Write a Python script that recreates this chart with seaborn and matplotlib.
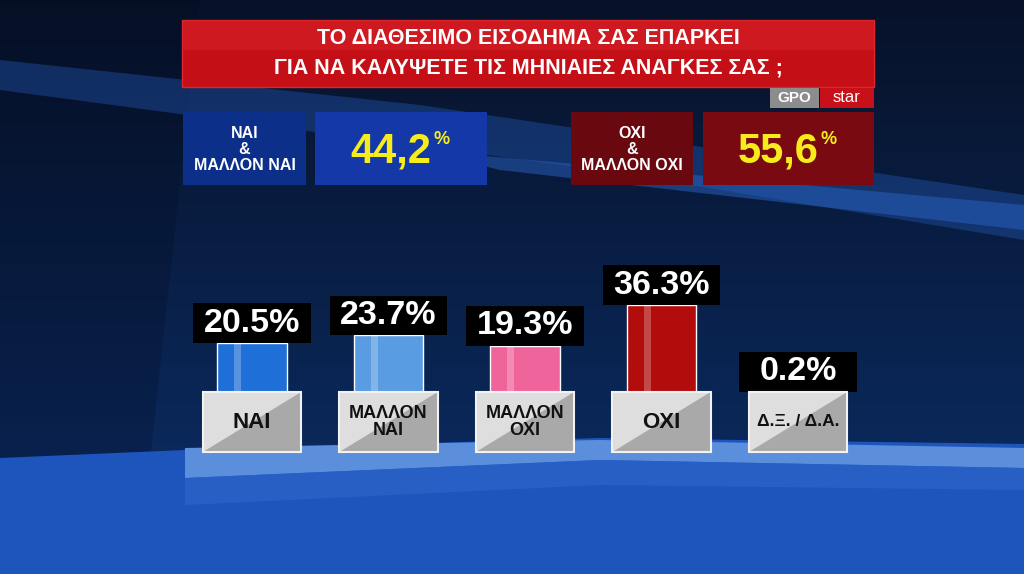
import numpy as np
import matplotlib
matplotlib.use("Agg")
import matplotlib.pyplot as plt
from matplotlib.patches import Rectangle, Polygon
import seaborn as sns

# ---------------- data ----------------
categories = ["ΝΑΙ", "ΜΑΛΛΟΝ\nΝΑΙ", "ΜΑΛΛΟΝ\nΟΧΙ", "ΟΧΙ", "Δ.Ξ. / Δ.Α."]
values = [20.5, 23.7, 19.3, 36.3, 0.2]
bar_colors = ["#1f6fd8", "#5a9ce2", "#f0649c", "#b20c0c", "#9a9a9a"]
title_lines = ["ΤΟ ΔΙΑΘΕΣΙΜΟ ΕΙΣΟΔΗΜΑ ΣΑΣ ΕΠΑΡΚΕΙ",
               "ΓΙΑ ΝΑ ΚΑΛΥΨΕΤΕ ΤΙΣ ΜΗΝΙΑΙΕΣ ΑΝΑΓΚΕΣ ΣΑΣ ;"]
summary_labels = ["ΝΑΙ\n&\nΜΑΛΛΟΝ ΝΑΙ", "ΟΧΙ\n&\nΜΑΛΛΟΝ ΟΧΙ"]
summary_values = ["44,2", "55,6"]

sns.set_theme(style="white")
FONT = ["Liberation Sans", "DejaVu Sans"]
plt.rcParams["font.family"] = FONT

W, H = 1024, 574
fig = plt.figure(figsize=(W / 100, H / 100), dpi=100)

# ---------------- background axes (pixel coords) ----------------
bg = fig.add_axes([0, 0, 1, 1])
bg.set_xlim(0, W)
bg.set_ylim(H, 0)
bg.axis("off")

grad = np.linspace(0, 1, 256)[:, None]
top = np.array([0.03, 0.07, 0.16])
mid = np.array([0.04, 0.16, 0.36])
img = top[None, None, :] * (1 - grad[..., None]) + mid[None, None, :] * grad[..., None]
img = np.repeat(img, 4, axis=1)
bg.imshow(img, extent=[0, W, 460, 0], aspect="auto", zorder=0)
# darker left side
bg.add_patch(Polygon([[0, 0], [200, 0], [150, 460], [0, 460]], closed=True,
                     facecolor="#02081a", alpha=0.22, lw=0, zorder=1))
# lighter diagonal bands
bg.add_patch(Polygon([[0, 60], [420, 105], [1024, 195], [1024, 240], [600, 170], [0, 90]],
                     closed=True, facecolor="#1d4b9c", alpha=0.5, lw=0, zorder=1))
bg.add_patch(Polygon([[420, 150], [1024, 205], [1024, 230], [500, 170]],
                     closed=True, facecolor="#2a63c4", alpha=0.5, lw=0, zorder=1))
# floor
bg.add_patch(Polygon([[0, 458], [185, 450], [600, 438], [1024, 444], [1024, 574], [0, 574]],
                     closed=True, facecolor="#1e55bd", lw=0, zorder=1))
bg.add_patch(Polygon([[185, 448], [600, 440], [1024, 448], [1024, 468], [600, 460], [185, 478]],
                     closed=True, facecolor="#5b8fdc", lw=0, zorder=2))
bg.add_patch(Polygon([[185, 478], [600, 460], [1024, 468], [1024, 490], [600, 485], [185, 505]],
                     closed=True, facecolor="#2a62c8", lw=0, zorder=2, alpha=0.8))

# title banner
bg.add_patch(Rectangle((182, 20), 692, 67, facecolor="#c40f16", edgecolor="#e0262c", lw=1, zorder=3))
bg.add_patch(Rectangle((182, 20), 692, 30, facecolor="#d8242a", lw=0, zorder=3, alpha=0.5))
for k, line in enumerate(title_lines):
    bg.text(528, 38 + k * 30, line, color="white", fontsize=15.5, fontweight="bold",
            ha="center", va="center", zorder=4)
# GPO star badge
bg.add_patch(Rectangle((770, 88), 49, 20, facecolor="#8c8c8c", lw=0, zorder=3))
bg.add_patch(Rectangle((820, 88), 54, 20, facecolor="#c8101a", lw=0, zorder=3))
bg.text(794, 98, "GPO", color="white", fontsize=11, fontweight="bold", ha="center", va="center", zorder=4)
bg.text(847, 97, "star", color="white", fontsize=12, ha="center", va="center", zorder=4)

# summary boxes
boxes = [
    ((183, 112, 123, 73), (315, 112, 172, 73), "#0c2f8a", "#1438a8"),
    ((571, 112, 122, 73), (703, 112, 171, 73), "#6a0810", "#7a0a12"),
]
for (lb, vb, c1, c2), lab, val in zip(boxes, summary_labels, summary_values):
    bg.add_patch(Rectangle(lb[:2], lb[2], lb[3], facecolor=c1, lw=0, zorder=3))
    bg.add_patch(Rectangle(vb[:2], vb[2], vb[3], facecolor=c2, lw=0, zorder=3))
    bg.text(lb[0] + lb[2] / 2, lb[1] + lb[3] / 2 + 1, lab, color="white", fontsize=11.5,
            fontweight="bold", ha="center", va="center", linespacing=1.1, zorder=4)
    cx = vb[0] + vb[2] / 2
    cy = vb[1] + vb[3] / 2
    bg.text(cx + 30, cy + 3, val, color="#f6ec1c", fontsize=30,
            fontweight="bold", ha="right", va="center", zorder=4)
    bg.text(cx + 32, cy - 9, "%", color="#f6ec1c", fontsize=13,
            fontweight="bold", ha="left", va="center", zorder=4)

# ---------------- bar axes ----------------
step = 136.5
x0 = 252 - 0.5 * step
px_per_unit = 2.4
ymax = 50
ax = fig.add_axes([x0 / W, (H - 392) / H, 5 * step / W, ymax * px_per_unit / H])
ax.set_zorder(5)
ax.patch.set_alpha(0)
sns.barplot(x=list(range(len(values))), y=values, hue=list(range(len(values))),
            palette=bar_colors, legend=False, width=0.51, ax=ax, saturation=1)
ax.set_xlim(-0.5, len(values) - 0.5)
ax.set_ylim(0, ymax)
ax.axis("off")

for i, v in enumerate(values):
    # highlight stripe on bar
    ax.add_patch(Rectangle((i - 0.13, 0), 0.05, v, facecolor="white", alpha=0.25, lw=0, zorder=3))
    # value label box
    ax.add_patch(Rectangle((i - 0.43, v), 0.86, 16.5, facecolor="black", lw=0,
                           clip_on=False, zorder=4))
    ax.text(i, v + 8.2, f"{v:.1f}%", color="white", fontsize=24.5, fontweight="bold",
            ha="center", va="center", clip_on=False, zorder=5)
    # gray category label box with diagonal split
    L, R, T, B = i - 0.36, i + 0.36, 0, -25
    ax.add_patch(Rectangle((L, B), R - L, T - B, facecolor="#a9a9a9", lw=0,
                           clip_on=False, zorder=4))
    ax.add_patch(Polygon([[L, T], [R, T], [L, B]], closed=True, facecolor="#dedede", lw=0,
                         clip_on=False, zorder=4))
    ax.add_patch(Rectangle((L, B), R - L, T - B, facecolor="none", edgecolor="#f2f2f2",
                           lw=1.5, clip_on=False, zorder=4))
    two = "\n" in categories[i]
    if two:
        fs = 13
    elif len(categories[i]) > 5:
        fs = 12.5
    else:
        fs = 16
    ax.text(i, -12.5, categories[i], color="#111111", fontsize=fs,
            fontweight="bold", ha="center", va="center", linespacing=1.0, clip_on=False, zorder=5)

fig.savefig("out.png", dpi=100)
